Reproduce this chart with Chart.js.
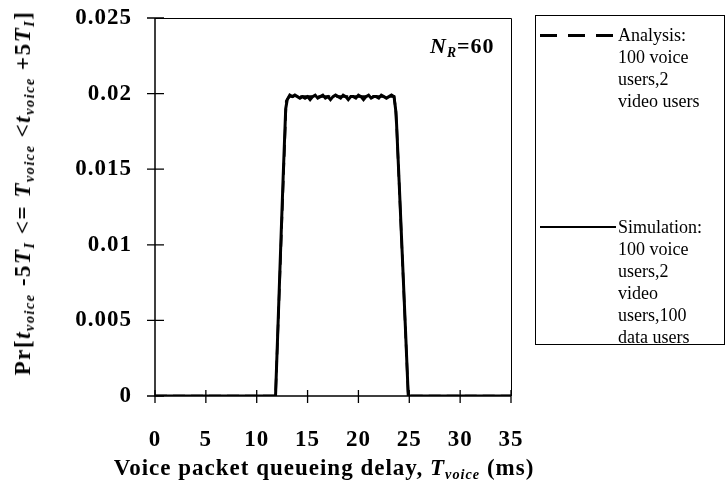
<!DOCTYPE html>
<html lang="en">
<head>
    <meta charset="UTF-8">
    <title>Voice packet queueing delay</title>
    <script src="https://cdn.jsdelivr.net/npm/chart.js"></script>
    <style>
        body { margin: 0; background: #fff; }
        #wrap {
            position: relative;
            width: 727px;
            height: 495px;
            font-family: "Liberation Serif", "Times New Roman", serif;
            color: #000;
            overflow: hidden;
        }
        canvas { position: absolute; left: 0; top: 0; }
        .title {
            position: absolute;
            white-space: nowrap;
            font-weight: bold;
            font-size: 23px;
            letter-spacing: 1px;
        }
        .ytitle {
            left: 23px;
            top: 193px;
            letter-spacing: 1.5px;
            transform: translate(-50%, -50%) rotate(-90deg);
        }
        .xtitle {
            left: 324px;
            top: 468px;
            transform: translate(-50%, -50%);
        }
        .nr {
            left: 430px;
            top: 33px;
            font-size: 22px;
        }
        i { font-style: italic; }
        sub {
            font-size: 0.62em;
            font-style: italic;
            vertical-align: -0.3em;
            line-height: 0;
        }
        .legend {
            position: absolute;
            left: 535px;
            top: 15px;
            width: 190px;
            height: 330px;
            border: 1px solid #000;
            box-sizing: border-box;
            font-size: 18px;
            line-height: 22px;
        }
        .item { position: absolute; left: 82px; }
        .sample { position: absolute; left: -78px; top: 10px; width: 76px; }
        .dash {
            height: 3px;
            background: repeating-linear-gradient(to right, #000 0 17px, transparent 17px 28px);
        }
        .solid { height: 1.5px; background: #000; }
    </style>
</head>
<body>
<div id="wrap">
    <canvas id="chart" width="727" height="495"></canvas>

    <div class="title ytitle">Pr[<i>t</i><sub>voice</sub> -5<i>T</i><sub>I</sub> &lt;= <i>T</i><sub>voice</sub> &lt;<i>t</i><sub>voice</sub> +5<i>T</i><sub>I</sub>]</div>
    <div class="title xtitle">Voice packet queueing delay, <i>T</i><sub>voice</sub> (ms)</div>
    <div class="title nr"><i>N</i><sub>R</sub>=60</div>

    <div class="legend">
        <div class="item" style="top: 8px;">
            <div class="sample dash"></div>
            Analysis:<br>100 voice<br>users,2<br>video users
        </div>
        <div class="item" style="top: 200px;">
            <div class="sample solid"></div>
            Simulation:<br>100 voice<br>users,2<br>video<br>users,100<br>data users
        </div>
    </div>
</div>

<script>
    // Axes
    const xTicks = [0, 5, 10, 15, 20, 25, 30, 35];
    const yTicks = [0, 0.005, 0.01, 0.015, 0.02, 0.025];
    const yTickLabels = ['0', '0.005', '0.01', '0.015', '0.02', '0.025'];

    // Simulation (solid, noisy plateau)
    const simX = [0, 5, 10, 11.85, 12.1, 12.35, 12.6, 12.85, 13.0, 13.25, 13.5, 13.75, 14.0, 14.25,
        14.5, 14.75, 15.0, 15.25, 15.5, 15.75, 16.0, 16.25, 16.5, 16.75, 17.0, 17.25, 17.5, 17.75,
        18.0, 18.25, 18.5, 18.75, 19.0, 19.25, 19.5, 19.75, 20.0, 20.25, 20.5, 20.75, 21.0, 21.25,
        21.5, 21.75, 22.0, 22.25, 22.5, 22.75, 23.0, 23.25, 23.5, 23.65, 23.75, 24.0, 24.3, 24.6,
        24.9, 30, 35];
    const simY = [0, 0, 0, 0, 0.0048, 0.0097, 0.0145, 0.0190, 0.0196, 0.0199, 0.0198, 0.0199, 0.0198, 0.0197,
        0.0198, 0.0197, 0.0198, 0.0196, 0.0198, 0.0199, 0.0197, 0.0198, 0.0199, 0.0197, 0.0198, 0.0196, 0.0198, 0.0199,
        0.0198, 0.0197, 0.0199, 0.0198, 0.0196, 0.0198, 0.0198, 0.0197, 0.0199, 0.0198, 0.0196, 0.0198, 0.0199, 0.0197,
        0.0198, 0.0198, 0.0197, 0.0199, 0.0198, 0.0197, 0.0198, 0.0199, 0.0198, 0.0190, 0.0180, 0.0142, 0.0095, 0.0048,
        0, 0, 0];

    // Analysis (dashed, smooth)
    const anaX = [0, 11.85, 12.9, 13.2, 23.5, 23.7, 24.9, 35];
    const anaY = [0, 0, 0.0195, 0.0198, 0.0198, 0.0188, 0, 0];

    const toPoints = (xs, ys) => xs.map((x, i) => ({ x: x, y: ys[i] }));

    // frame, axis lines and ticks crossing the axes
    const framePlugin = {
        id: 'frame',
        beforeDraw(chart) {
            chart.ctx.letterSpacing = '1px';
        },
        afterDatasetsDraw(chart) {
            const { ctx, chartArea: a, scales } = chart;
            ctx.save();
            ctx.strokeStyle = '#000';
            ctx.lineWidth = 1;
            ctx.beginPath();
            ctx.moveTo(a.left, a.top + 0.5);
            ctx.lineTo(a.right + 0.5, a.top + 0.5);
            ctx.lineTo(a.right + 0.5, a.bottom);
            ctx.stroke();

            ctx.lineWidth = 1.5;
            ctx.beginPath();
            ctx.moveTo(a.left, a.top);
            ctx.lineTo(a.left, a.bottom);
            ctx.lineTo(a.right, a.bottom);
            ctx.stroke();

            ctx.lineWidth = 1.3;
            ctx.beginPath();
            scales.y.ticks.forEach(t => {
                const py = scales.y.getPixelForValue(t.value);
                ctx.moveTo(a.left - 8, py);
                ctx.lineTo(a.left + 9, py);
            });
            scales.x.ticks.forEach(t => {
                const px = scales.x.getPixelForValue(t.value);
                ctx.moveTo(px, a.bottom - 6);
                ctx.lineTo(px, a.bottom + 7);
            });
            ctx.stroke();
            ctx.restore();
        }
    };

    const tickFont = { family: '"Liberation Serif", "Times New Roman", serif', size: 23, weight: 'bold' };

    new Chart(document.getElementById('chart').getContext('2d'), {
        type: 'line',
        data: {
            datasets: [{
                label: 'Analysis',
                data: toPoints(anaX, anaY),
                borderColor: '#000',
                borderWidth: 2.5,
                borderDash: [12, 6],
                pointRadius: 0,
                tension: 0,
                fill: false
            }, {
                label: 'Simulation',
                data: toPoints(simX, simY),
                borderColor: '#000',
                borderWidth: 3,
                pointRadius: 0,
                tension: 0,
                fill: false
            }]
        },
        options: {
            responsive: false,
            animation: false,
            devicePixelRatio: 1,
            layout: { padding: { top: 18, right: 216, bottom: 0, left: 0 } },
            plugins: {
                legend: { display: false },
                tooltip: { enabled: false }
            },
            scales: {
                x: {
                    type: 'linear',
                    min: 0,
                    max: 35,
                    grid: { display: false },
                    border: { display: false },
                    afterBuildTicks: s => { s.ticks = xTicks.map(v => ({ value: v })); },
                    afterFit: s => { s.height = 99; s.paddingLeft = 0; s.paddingRight = 0; },
                    ticks: {
                        color: '#000',
                        font: tickFont,
                        padding: 22,
                        maxRotation: 0,
                        callback: v => String(v)
                    }
                },
                y: {
                    min: 0,
                    max: 0.025,
                    grid: { display: false },
                    border: { display: false },
                    afterBuildTicks: s => { s.ticks = yTicks.map(v => ({ value: v })); },
                    afterFit: s => { s.width = 155; s.paddingTop = 0; s.paddingBottom = 0; },
                    ticks: {
                        color: '#000',
                        font: tickFont,
                        padding: 15,
                        callback: (v, i) => yTickLabels[i]
                    }
                }
            }
        },
        plugins: [framePlugin]
    });
</script>
</body>
</html>
